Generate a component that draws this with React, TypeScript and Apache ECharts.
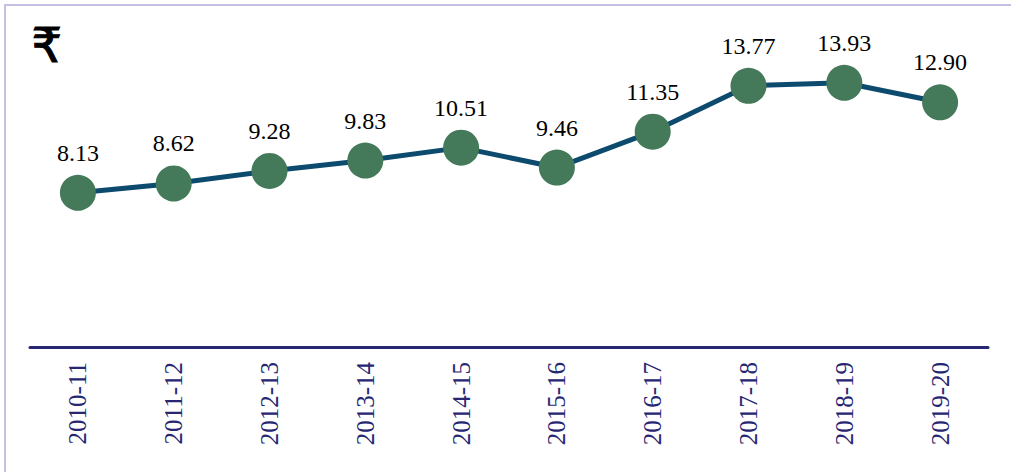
import React, { useEffect, useRef } from "react";
import * as echarts from "echarts";

const categories = ["2010-11", "2011-12", "2012-13", "2013-14", "2014-15", "2015-16", "2016-17", "2017-18", "2018-19", "2019-20"];
const values = [8.13, 8.62, 9.28, 9.83, 10.51, 9.46, 11.35, 13.77, 13.93, 12.9];

const SERIF = "'Liberation Serif', 'Times New Roman', serif";

export default function App() {
  const ref = useRef<HTMLDivElement>(null);
  useEffect(() => {
    if (!ref.current) return;
    const chart = echarts.init(ref.current, null, { renderer: "svg" });
    chart.setOption({
      animation: false,
      backgroundColor: "#ffffff",
      grid: { left: 30, right: 23, top: 43.5, bottom: 125 },
      graphic: [
        {
          type: "rect",
          shape: { x: 5, y: 5, width: 1100, height: 600 },
          style: { fill: "none", stroke: "#c4c0e4", lineWidth: 2 },
          silent: true,
        },
        {
          type: "text",
          left: 31,
          top: 20,
          style: { text: "₹", fontSize: 48, fontFamily: "'DejaVu Sans', sans-serif", fill: "#000", stroke: "#000", lineWidth: 1 },
        },
      ],
      xAxis: {
        type: "category",
        data: categories,
        boundaryGap: true,
        axisLine: { lineStyle: { color: "#262673", width: 3 } },
        axisTick: { show: false },
        axisLabel: {
          rotate: 90,
          color: "#262673",
          fontFamily: SERIF,
          fontSize: 25,
          margin: 15,
        },
      },
      yAxis: {
        type: "value",
        min: 0,
        max: 16,
        show: false,
        splitLine: { show: false },
      },
      series: [
        {
          type: "line",
          data: values,
          symbol: "circle",
          symbolSize: 36,
          lineStyle: { color: "#0c4a6e", width: 5 },
          itemStyle: { color: "#447a5a" },
          label: {
            show: true,
            position: "top",
            distance: 10,
            formatter: (p: any) => p.value.toFixed(2),
            color: "#000",
            fontFamily: SERIF,
            fontSize: 24,
          },
        },
      ],
    });
    return () => chart.dispose();
  }, []);
  return <div ref={ref} style={{ position: "fixed", left: 0, top: 0, width: 1011, height: 472 }} />;
}
